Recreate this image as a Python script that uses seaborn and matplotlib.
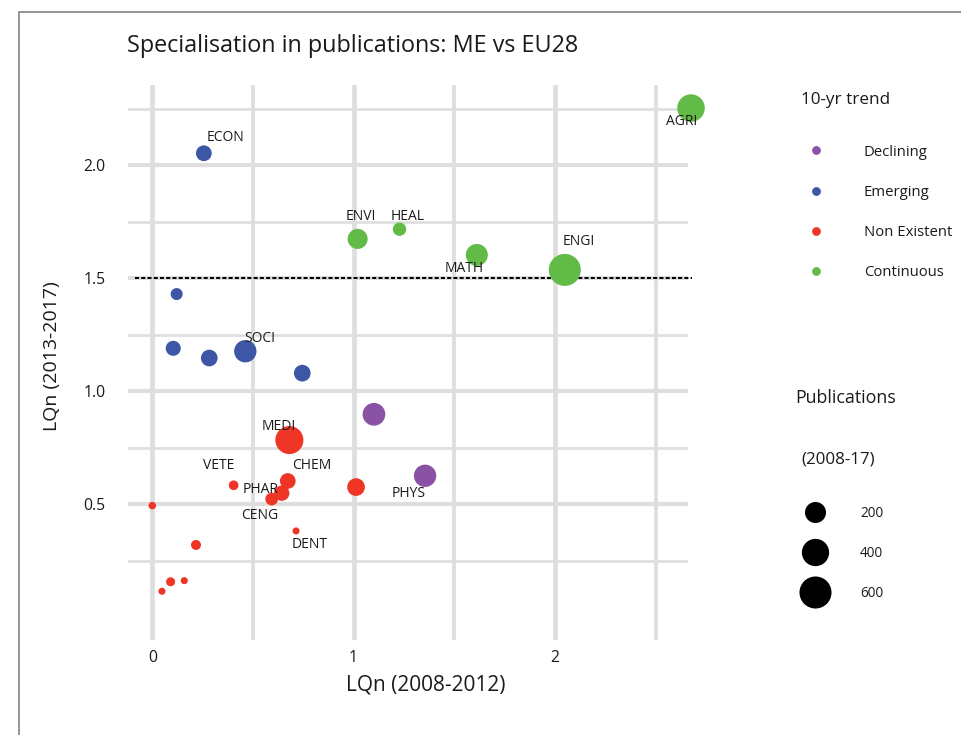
import numpy as np
import pandas as pd
import matplotlib.pyplot as plt
import seaborn as sns
from matplotlib.lines import Line2D
from matplotlib.patches import Rectangle

# values
fields = ['AGRI', 'ECON', 'ENVI', 'HEAL', 'MATH', 'ENGI', '', '', '', 'SOCI', '',
          '', 'PHYS', 'MEDI', '', 'CHEM', 'PHAR', 'CENG', 'VETE', '', 'DENT',
          '', '', '', '']
lq_2008_12 = [2.676, 0.256, 1.020, 1.228, 1.612, 2.049, 0.121, 0.104, 0.283, 0.462, 0.745,
              1.101, 1.355, 0.681, 1.012, 0.673, 0.643, 0.593, 0.404, 0.000, 0.714,
              0.217, 0.091, 0.159, 0.048]
lq_2013_17 = [2.254, 2.054, 1.675, 1.718, 1.604, 1.538, 1.431, 1.191, 1.148, 1.178, 1.081,
              0.899, 0.627, 0.785, 0.577, 0.604, 0.550, 0.524, 0.585, 0.495, 0.383,
              0.321, 0.158, 0.163, 0.116]
publications = [410, 84, 174, 48, 227, 600, 32, 72, 101, 236, 101,
                247, 236, 430, 121, 83, 77, 40, 12, 2, 1,
                14, 8, 1, 1]
trend = ['Continuous', 'Emerging', 'Continuous', 'Continuous', 'Continuous', 'Continuous',
         'Emerging', 'Emerging', 'Emerging', 'Emerging', 'Emerging',
         'Declining', 'Declining', 'Non Existent', 'Non Existent', 'Non Existent',
         'Non Existent', 'Non Existent', 'Non Existent', 'Non Existent', 'Non Existent',
         'Non Existent', 'Non Existent', 'Non Existent', 'Non Existent']

trend_order = ['Declining', 'Emerging', 'Non Existent', 'Continuous']
size_breaks = [200, 400, 600]
x_ticks = [0, 1, 2]
y_ticks = [0.5, 1.0, 1.5, 2.0]
threshold = 1.5

palette = {'Declining': '#8a52a4', 'Emerging': '#3d56a6',
           'Non Existent': '#ef3526', 'Continuous': '#62bb47'}

# label offsets (points) like a repel layout
offsets = {'AGRI': (-7, -9.5), 'ECON': (15.5, 11), 'ENVI': (2.5, 16), 'HEAL': (5.5, 9),
           'MATH': (-9, -10), 'ENGI': (10, 20.5), 'SOCI': (10.5, 9.5), 'MEDI': (-8, 10),
           'VETE': (-11, 14.5), 'CHEM': (17, 11.5), 'PHAR': (-15.5, 3), 'CENG': (-8.5, -11.5),
           'DENT': (10, -10), 'PHYS': (-11.5, -12.5)}

df = pd.DataFrame({'field': fields, 'x': lq_2008_12, 'y': lq_2013_17,
                   'pubs': publications, 'trend': trend})


def marker_diam(v):
    # diameter in points, grows with sqrt of count (ggplot style)
    return 0.72 * (6.0 + 1.063 * np.sqrt(v))


size_map = {v: marker_diam(v) ** 2 for v in sorted(set(publications))}

plt.rcParams['font.family'] = ['Open Sans', 'DejaVu Sans']
txt = '#1a1a1a'

fig = plt.figure(figsize=(9.61, 7.35), dpi=100)
W, H = 961, 735
ax = fig.add_axes([128 / W, 1 - 640 / H, 560 / W, 555 / H])

sns.scatterplot(data=df, x='x', y='y', hue='trend', hue_order=trend_order, palette=palette,
                size='pubs', sizes=size_map, linewidth=0, alpha=1, legend=False,
                ax=ax, zorder=3, clip_on=False)

for _, r in df[df.field != ''].iterrows():
    ax.annotate(r.field, (r.x, r.y), xytext=offsets[r.field], textcoords='offset points',
                ha='center', va='center', fontsize=10, color=txt, zorder=5,
                annotation_clip=False)

ax.hlines(threshold, -0.086, 2.681, colors='black', linestyles=(0, (2, 1.1)), lw=1.45,
          clip_on=False, zorder=2)

ax.set_xlim(-0.1207, 2.661)
ax.set_ylim(-0.0996, 2.356)
ax.set_xticks(x_ticks)
ax.set_xticklabels([str(t) for t in x_ticks])
ax.set_xticks([0.5, 1.5, 2.5], minor=True)
ax.set_yticks(y_ticks)
ax.set_yticklabels([f'{t:.1f}' for t in y_ticks])
ax.set_yticks([0.25, 0.75, 1.25, 1.75, 2.25], minor=True)
ax.grid(which='major', axis='x', color='#dedede', lw=3.4)
ax.grid(which='minor', axis='x', color='#dedede', lw=2.7)
ax.grid(which='major', axis='y', color='#dedede', lw=3.0)
ax.grid(which='minor', axis='y', color='#dedede', lw=1.9)
ax.set_axisbelow(True)
ax.tick_params(which='both', length=0)
ax.tick_params(axis='x', pad=7, labelsize=11.3, labelcolor=txt)
ax.tick_params(axis='y', pad=16, labelsize=11.3, labelcolor=txt)
for s in ax.spines.values():
    s.set_visible(False)
ax.set_xlabel('')
ax.set_ylabel('')

fig.text(426 / W, 1 - 685 / H, 'LQn (2008-2012)', ha='center', va='center',
         fontsize=15, color=txt)
fig.text(52 / W, 1 - 356 / H, 'LQn (2013-2017)', ha='center', va='center',
         rotation=90, fontsize=14, color=txt)
fig.text(127 / W, 1 - 46 / H, 'Specialisation in publications: ME vs EU28',
         ha='left', va='center', fontsize=16.8, color=txt)

# legends
fig.text(801 / W, 1 - 100.5 / H, '10-yr trend', ha='left', va='center',
         fontsize=12.3, color=txt)
h1 = [Line2D([], [], ls='', marker='o', markersize=6.3, markeredgewidth=0, color=palette[t])
      for t in trend_order]
leg1 = fig.legend(h1, trend_order, loc='center left',
                  bbox_to_anchor=(805 / W, 1 - 212.5 / H), frameon=False, fontsize=10.7,
                  handlelength=1.5, handletextpad=2.45, labelspacing=1.7, borderpad=0,
                  borderaxespad=0, labelcolor=txt)

fig.text(795 / W, 1 - 398 / H, 'Publications', ha='left', va='center',
         fontsize=12.8, color=txt)
fig.text(801 / W, 1 - 460 / H, '(2008-17)', ha='left', va='center',
         fontsize=12.2, color=txt)
h2 = [Line2D([], [], ls='', marker='o', markersize=marker_diam(v), markeredgewidth=0,
             color='black') for v in size_breaks]
leg2 = fig.legend(h2, [str(v) for v in size_breaks], loc='center left',
                  bbox_to_anchor=(801 / W, 1 - 553.5 / H), frameon=False, fontsize=9.8,
                  handlelength=2, handletextpad=2.35, labelspacing=1.82, borderpad=0,
                  borderaxespad=0, labelcolor=txt)

# grey frame around the panel
fig.add_artist(Rectangle((19 / W, -0.1), 1.2, 1.1 - 12 / H, transform=fig.transFigure,
                         fill=False, edgecolor='#8c8c8c', lw=1.3))

fig.savefig('out.png', dpi=100)
